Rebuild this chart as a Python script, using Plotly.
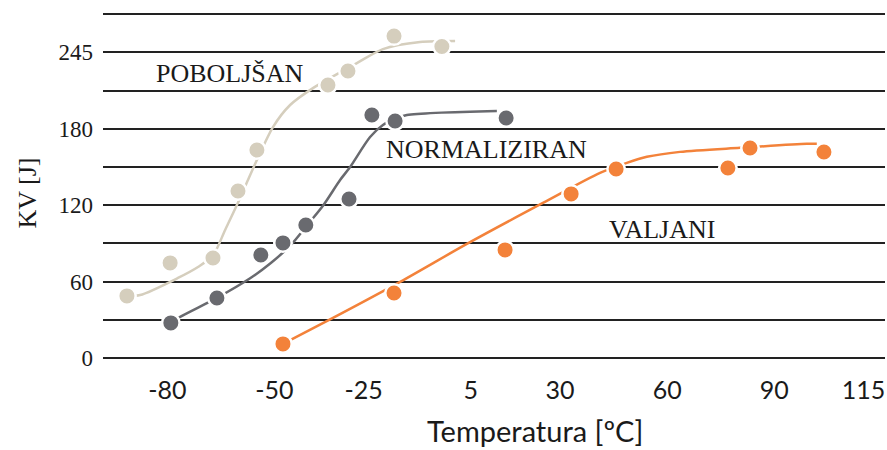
import plotly.graph_objects as go

# ---------------- data ----------------
# measured points
pob_x = [-91.3, -79.2, -67.2, -60.2, -54.9, -35.0, -29.4, -16.5, -3.1]
pob_y = [48.7, 74.6, 78.5, 131.1, 163.3, 214.3, 225.3, 252.7, 244.5]

norm_x = [-79.0, -66.1, -53.8, -47.6, -41.2, -29.1, -22.7, -16.2, 14.9]
norm_y = [27.5, 47.1, 80.8, 90.3, 104.4, 124.8, 190.7, 186.0, 188.4]

valj_x = [-47.6, -16.5, 14.6, 33.1, 45.7, 77.0, 83.2, 103.9]
valj_y = [11.0, 51.0, 84.8, 128.8, 148.3, 149.1, 164.8, 161.7]

# fitted trend curves
pob_fit_x = [-91.3, -87.6, -77.0, -71.4, -67.2, -63.8, -60.5, -57.4, -54.9, -50.4, -45.6, -39.2, -26.9, -19.6, -9.2, 0.6]
pob_fit_y = [48.7, 49.4, 62.8, 71.4, 80.5, 100.5, 120.1, 139.7, 155.4, 181.3, 198.6, 211.9, 231.5, 242.5, 248.0, 248.8]

norm_fit_x = [-79.0, -76.4, -66.1, -56.8, -51.0, -45.4, -40.9, -36.4, -31.6, -28.8, -23.2, -19.6, -16.2, -12.9, 12.3]
norm_fit_y = [27.5, 32.2, 47.1, 62.5, 74.5, 88.7, 104.0, 119.5, 139.7, 149.9, 173.5, 182.9, 187.6, 190.7, 193.9]

valj_fit_x = [-47.6, -33.6, -14.8, 3.9, 25.2, 41.2, 48.7, 54.3, 63.6, 80.4, 99.1, 101.9]
valj_fit_y = [11.0, 31.4, 59.7, 89.5, 121.7, 145.3, 153.2, 157.9, 161.8, 165.0, 168.1, 168.1]

# series labels
series_names = ["POBOLJŠAN", "NORMALIZIRAN", "VALJANI"]

# axis ticks
x_tickvals = [-80, -50, -25, 5, 30, 60, 90, 115]
x_ticktext = ["-80", "-50", "-25", "5", "30", "60", "90", "115"]
y_tickvals = [0, 30, 60, 90, 120, 150, 180, 210, 240, 270]
y_ticktext = ["0", "", "60", "", "120", "", "180", "", "245", ""]

x_title = "Temperatura [ºC]"
y_title = "KV [J]"

# ---------------- styling ----------------
C_POB = "#D5CEBD"
C_NORM = "#696A6F"
C_VALJ = "#F3823A"

fig = go.Figure()

for fx, fy, col in [(pob_fit_x, pob_fit_y, C_POB),
                    (norm_fit_x, norm_fit_y, C_NORM),
                    (valj_fit_x, valj_fit_y, C_VALJ)]:
    fig.add_trace(go.Scatter(x=fx, y=fy, mode="lines",
                             line=dict(color=col, width=2.5, shape="spline", smoothing=0.8),
                             hoverinfo="skip", showlegend=False))

for mx, my, col, name in [(pob_x, pob_y, C_POB, series_names[0]),
                          (norm_x, norm_y, C_NORM, series_names[1]),
                          (valj_x, valj_y, C_VALJ, series_names[2])]:
    fig.add_trace(go.Scatter(x=mx, y=my, mode="markers", name=name,
                             marker=dict(color=col, size=17.5,
                                         line=dict(color="white", width=2.5)),
                             showlegend=False))

serif = "Liberation Serif"
sans = "Lato"

fig.update_layout(
    width=887, height=450,
    margin=dict(l=103, r=2, t=9, b=87),
    paper_bgcolor="white", plot_bgcolor="white",
    showlegend=False,
    xaxis=dict(range=[-98, 121], tickvals=x_tickvals, ticktext=x_ticktext,
               showgrid=False, zeroline=False, showline=False, ticks="",
               tickfont=dict(family=sans, size=25, color="#1a1a1a"),
               ticklabelstandoff=10),
    yaxis=dict(range=[-4, 274], tickvals=y_tickvals, ticktext=y_ticktext,
               showgrid=True, gridcolor="#222222", gridwidth=2,
               zeroline=False, showline=False, ticks="",
               tickfont=dict(family=serif, size=23, color="#1a1a1a"),
               ticklabelstandoff=9),
    annotations=[
        dict(x=-62.4, y=223.7, xref="x", yref="y", text=series_names[0], showarrow=False,
             font=dict(family=serif, size=26, color="#1a1a1a")),
        dict(x=9.3, y=163.3, xref="x", yref="y", text=series_names[1], showarrow=False,
             font=dict(family=serif, size=26, color="#1a1a1a")),
        dict(x=58.6, y=100.5, xref="x", yref="y", text=series_names[2], showarrow=False,
             font=dict(family=serif, size=26, color="#1a1a1a")),
        dict(x=0.552, y=-0.19, xref="paper", yref="paper", text=x_title, showarrow=False,
             xanchor="center", yanchor="middle",
             font=dict(family=sans, size=29, color="#1a1a1a")),
        dict(x=-0.097, y=0.479, xref="paper", yref="paper", text=y_title, showarrow=False,
             textangle=-90, xanchor="center", yanchor="middle",
             font=dict(family=serif, size=26, color="#1a1a1a")),
    ],
)

fig.write_html("out.html", config={"displayModeBar": False},
               post_script="document.body.style.margin='0';document.body.style.overflow='hidden';")
